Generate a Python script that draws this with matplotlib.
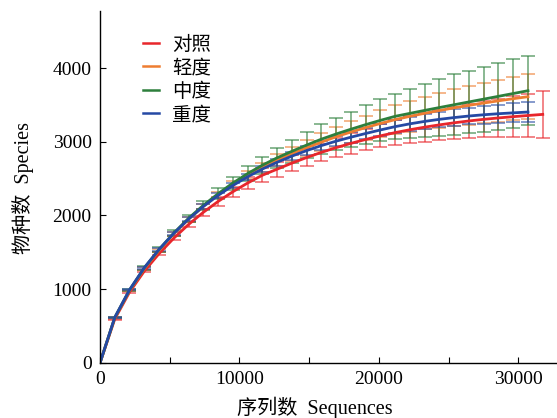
import matplotlib
matplotlib.use("Agg")
import matplotlib.pyplot as plt
from matplotlib.ticker import MultipleLocator

plt.rcParams['font.family'] = ['Liberation Serif', 'Noto Sans CJK SC']

# sequencing depth of each rarefaction step
depth = [0, 1058, 2116, 3174, 4232, 5290, 6348, 7406, 8464, 9522, 10580,
         11638, 12696, 13754, 14812, 15870, 16928, 17986, 19044, 20102, 21160,
         22218, 23276, 24334, 25392, 26450, 27508, 28566, 29624, 30682, 31740]

groups = ["对照", "轻度", "中度", "重度"]

# observed species (mean) per group
ctrl = [0, 595, 960, 1245, 1482, 1692, 1878, 2043, 2190, 2322, 2440,
        2546, 2628, 2710, 2786, 2856, 2920, 2978, 3031, 3080, 3124,
        3163, 3198, 3229, 3257, 3282, 3304, 3323, 3340, 3356, 3371]
light = [0, 612, 982, 1280, 1528, 1750, 1948, 2122, 2278, 2418, 2545,
         2655, 2755, 2835, 2918, 2995, 3068, 3132, 3192, 3248, 3300,
         3345, 3386, 3424, 3460, 3494, 3525, 3555, 3584, 3611]
mid = [0, 615, 988, 1288, 1538, 1762, 1962, 2138, 2295, 2440, 2568,
       2682, 2782, 2870, 2955, 3035, 3105, 3170, 3232, 3290, 3345,
       3385, 3425, 3464, 3502, 3540, 3578, 3616, 3654, 3692]
heavy = [0, 618, 992, 1292, 1540, 1758, 1952, 2122, 2272, 2406, 2525,
         2630, 2722, 2805, 2880, 2948, 3008, 3062, 3112, 3160, 3205,
         3243, 3276, 3304, 3328, 3349, 3366, 3380, 3392, 3403]

# standard deviation per group
ctrl_sd = [0, 6, 10, 15, 20, 25, 35, 45, 55, 70, 85, 95, 102, 108, 115, 120,
           130, 138, 145, 155, 168, 184, 197, 205, 220, 231, 244, 263, 280,
           296, 314]
light_sd = [0, 8, 12, 15, 20, 25, 30, 35, 40, 48, 55, 62, 80, 98, 112, 122,
            136, 152, 163, 183, 198, 208, 217, 233, 250, 262, 270, 282, 292,
            303]
mid_sd = [0, 10, 15, 25, 30, 40, 50, 60, 75, 88, 100, 115, 137, 160, 182,
          203, 220, 240, 265, 285, 302, 335, 355, 385, 410, 425, 440, 455,
          465, 470]
heavy_sd = [0, 5, 8, 12, 16, 20, 24, 28, 32, 36, 40, 45, 50, 55, 60, 65, 70,
            75, 80, 85, 90, 95, 100, 105, 110, 115, 120, 125, 128, 131]

series = [ctrl, light, mid, heavy]
sds = [ctrl_sd, light_sd, mid_sd, heavy_sd]
colors = ['#e8262b', '#ee7d31', '#2d7f3c', '#2549a4']

fig = plt.figure(figsize=(5.57, 4.18), dpi=100)
ax = fig.add_axes([0.1795, 0.1316, 0.8187, 0.8421])

# error bars underneath
for ys, sd, c in zip(series, sds, colors):
    xs = depth[:len(ys)]
    ax.errorbar(xs[1:], ys[1:], yerr=sd[1:], fmt='none', ecolor=c,
                elinewidth=1.3, capsize=5, capthick=1.3, alpha=0.6)

lines = []
for ys, c, g in zip(series, colors, groups):
    xs = depth[:len(ys)]
    ln, = ax.plot(xs, ys, color=c, lw=2.0, label=g)
    lines.append(ln)

ax.set_xlim(0, 32690)
ax.set_ylim(0, 4773)
ax.xaxis.set_major_locator(MultipleLocator(10000))
ax.xaxis.set_minor_locator(MultipleLocator(5000))
ax.yaxis.set_major_locator(MultipleLocator(1000))
ax.tick_params(axis='both', which='both', direction='in', labelsize=14,
               width=0.8)
ax.tick_params(axis='both', which='major', length=4, pad=6)
ax.tick_params(axis='x', which='minor', length=4)
ax.tick_params(axis='y', which='minor', length=0)

for s in ['top', 'right']:
    ax.spines[s].set_visible(False)
for s in ['left', 'bottom']:
    ax.spines[s].set_linewidth(1.0)

ax.set_xlabel("序列数  Sequences", fontsize=14.5)
ax.set_ylabel("物种数  Species", fontsize=14.5)
ax.xaxis.set_label_coords(0.471, -0.097)
ax.yaxis.set_label_coords(-0.145, 0.497)

leg = ax.legend(handles=lines, loc='upper left', bbox_to_anchor=(0.055, 0.98),
                frameon=False, fontsize=14, handlelength=0.85,
                handletextpad=0.65, labelspacing=0.28)
for h in leg.get_lines():
    h.set_linewidth(1.8)

fig.savefig("out.png", dpi=100)
